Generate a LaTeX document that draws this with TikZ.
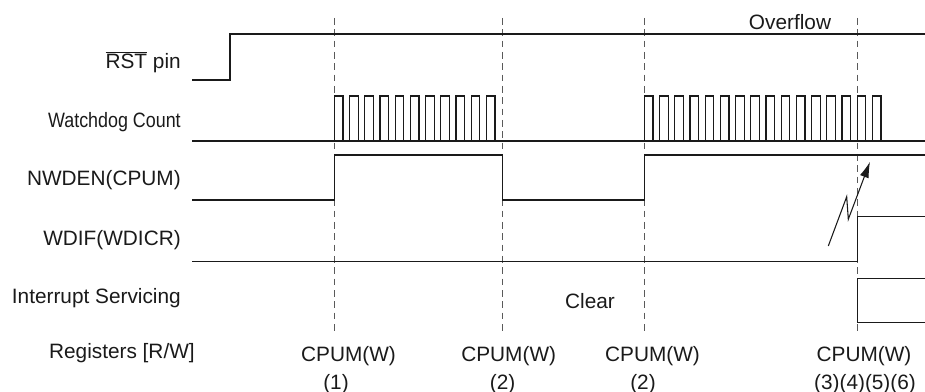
\documentclass[tikz,border=0pt]{standalone}
\usepackage{fontspec}
\setmainfont{Liberation Sans}
\usetikzlibrary{arrows.meta}
\definecolor{ink}{HTML}{1a1a1a}
\definecolor{guide}{HTML}{5a5a5a}

\begin{document}
\begin{tikzpicture}[x=0.75pt,y=-0.75pt,
  font=\fontsize{15.6}{18}\selectfont,
  sig/.style={draw=ink,line width=0.9pt},
  guide/.style={draw=guide,line width=0.7pt,dash pattern=on 5pt off 3.5pt},
  lbl/.style={anchor=base east,inner sep=0pt,text=ink},
  tag/.style={anchor=base,inner sep=0pt,text=ink},
  >={Latex[length=12pt,width=7pt]}]
  \useasboundingbox (0,0) rectangle (925,392);
  % event markers
  \foreach \x in {334.3,502.5,644.5,857.7}
    \draw[guide] (\x,18) -- (\x,333);
  % row labels
  \node[lbl] (rst) at (181,69) {$\overline{\mbox{RST}}$ pin};
  \node[lbl] (wdc) at (181,127.3) {\scalebox{0.86}[1]{Watchdog Count}};
  \node[lbl] (nwden) at (181,185.7) {NWDEN(CPUM)};
  \node[lbl] (wdif) at (181,245.7) {WDIF(WDICR)};
  \node[lbl] (isr) at (181,303.3) {Interrupt Servicing};
  \node[lbl] (regs) at (195,358.3) {Registers [R/W]};
  % waveforms
  \draw[sig] (192,80) -- (230,80) -- (230,34) -- (925,34);
  \draw[sig] (192,141) -- (925,141);
  \foreach \i in {0,...,10}
    \draw[sig] ({334.3+15.2*\i},141) |- ({343+15.2*\i},96) -- ({343+15.2*\i},141);
  \foreach \i in {0,...,15}
    \draw[sig] ({644.3+15.2*\i},141) |- ({653+15.2*\i},96) -- ({653+15.2*\i},141);
  \draw[sig] (192,200) -| (334.3,155) -| (502.5,200) -| (644.5,155) -- (925,155);
  \draw[sig] (192,261.7) -| (857.7,216.7) -- (925,216.7);
  \draw[sig] (925,278.3) -| (857.7,322.7) -- (925,322.7);
  % overflow sets the flag
  \draw[ink,line width=0.8pt,->] (828.3,246) -- (846.7,196.7) -- (848.3,219.3) -- (870,161.7);
  \node[tag] (ovf) at (790,29.3) {Overflow};
  \node[tag] (clr) at (590,308.3) {Clear};
  % register writes
  \node[tag] (w1) at (348.5,361) {CPUM(W)};
  \node[tag] (w2) at (508.7,361) {CPUM(W)};
  \node[tag] (w3) at (652.5,361) {CPUM(W)};
  \node[tag] (w4) at (864,361) {CPUM(W)};
  \node[tag] (n1) at (336,389.3) {(1)};
  \node[tag] (n2) at (502.7,389.3) {(2)};
  \node[tag] (n3) at (643,389.3) {(2)};
  \node[tag] (n4) at (865,389.3) {(3)(4)(5)(6)};
\end{tikzpicture}
\end{document}
